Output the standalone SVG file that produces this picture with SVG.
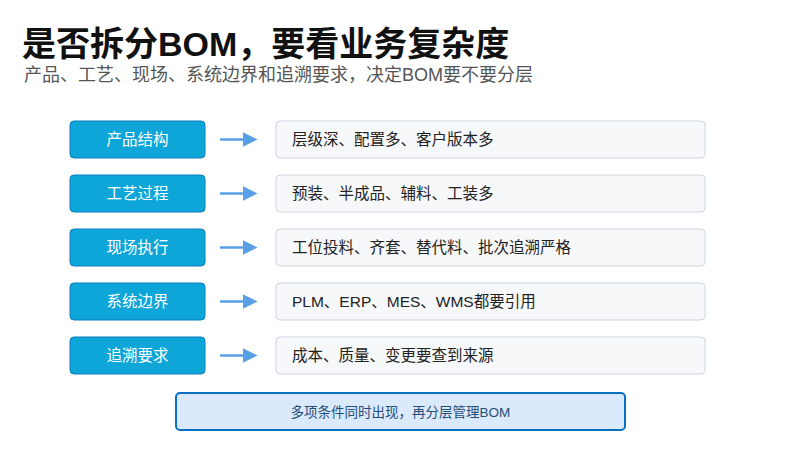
<svg xmlns="http://www.w3.org/2000/svg" width="800" height="450" viewBox="0 0 800 450">
<style>
text{font-family:"Liberation Sans","Noto Sans CJK SC",sans-serif}
.l rect{fill:#0ea5d8;stroke:#0a7fc0;stroke-width:1}
.l text{fill:#fff;font-size:15.5px;text-anchor:middle}
.r rect{fill:#f7f8fa;stroke:#cdd5e0;stroke-width:1}
.r text{fill:#222;font-size:15.5px}
.c line{stroke:#5a9fe6;stroke-width:2.5}
</style>
<defs><marker id="a" markerWidth="6" markerHeight="6" refX="5" refY="3" orient="auto" markerUnits="strokeWidth"><path d="M0,0L6,3L0,6z" fill="#5a9fe6"/></marker></defs>
<rect width="800" height="450" fill="#fff"/>
<text x="22" y="56" font-size="34" font-weight="bold" fill="#111">是否拆分BOM，要看业务复杂度</text>
<text x="24" y="81" font-size="18" fill="#555">产品、工艺、现场、系统边界和追溯要求，决定BOM要不要分层</text>
<g id="n1" class="l"><rect x="70" y="121" width="135" height="37" rx="4"/><text x="137.5" y="145">产品结构</text></g>
<g id="n2" class="l"><rect x="70" y="175" width="135" height="37" rx="4"/><text x="137.5" y="199">工艺过程</text></g>
<g id="n3" class="l"><rect x="70" y="229" width="135" height="37" rx="4"/><text x="137.5" y="253">现场执行</text></g>
<g id="n4" class="l"><rect x="70" y="283" width="135" height="37" rx="4"/><text x="137.5" y="307">系统边界</text></g>
<g id="n5" class="l"><rect x="70" y="337" width="135" height="37" rx="4"/><text x="137.5" y="361">追溯要求</text></g>
<g id="d1" class="r"><rect x="276" y="121" width="429" height="37" rx="4"/><text x="292" y="145">层级深、配置多、客户版本多</text></g>
<g id="d2" class="r"><rect x="276" y="175" width="429" height="37" rx="4"/><text x="292" y="199">预装、半成品、辅料、工装多</text></g>
<g id="d3" class="r"><rect x="276" y="229" width="429" height="37" rx="4"/><text x="292" y="253">工位投料、齐套、替代料、批次追溯严格</text></g>
<g id="d4" class="r"><rect x="276" y="283" width="429" height="37" rx="4"/><text x="292" y="307">PLM、ERP、MES、WMS都要引用</text></g>
<g id="d5" class="r"><rect x="276" y="337" width="429" height="37" rx="4"/><text x="292" y="361">成本、质量、变更要查到来源</text></g>
<g id="connectors" class="c">
<line x1="220" y1="139.5" x2="255" y2="139.5" marker-end="url(#a)"/>
<line x1="220" y1="193.5" x2="255" y2="193.5" marker-end="url(#a)"/>
<line x1="220" y1="247.5" x2="255" y2="247.5" marker-end="url(#a)"/>
<line x1="220" y1="301.5" x2="255" y2="301.5" marker-end="url(#a)"/>
<line x1="220" y1="355.5" x2="255" y2="355.5" marker-end="url(#a)"/>
</g>
<g id="summary"><rect x="176" y="393" width="449" height="37" rx="4" fill="#dbe9fc" stroke="#0a6fc0" stroke-width="2"/><text x="400.5" y="417" font-size="13.5" fill="#1f4e79" text-anchor="middle">多项条件同时出现，再分层管理BOM</text></g>
</svg>
